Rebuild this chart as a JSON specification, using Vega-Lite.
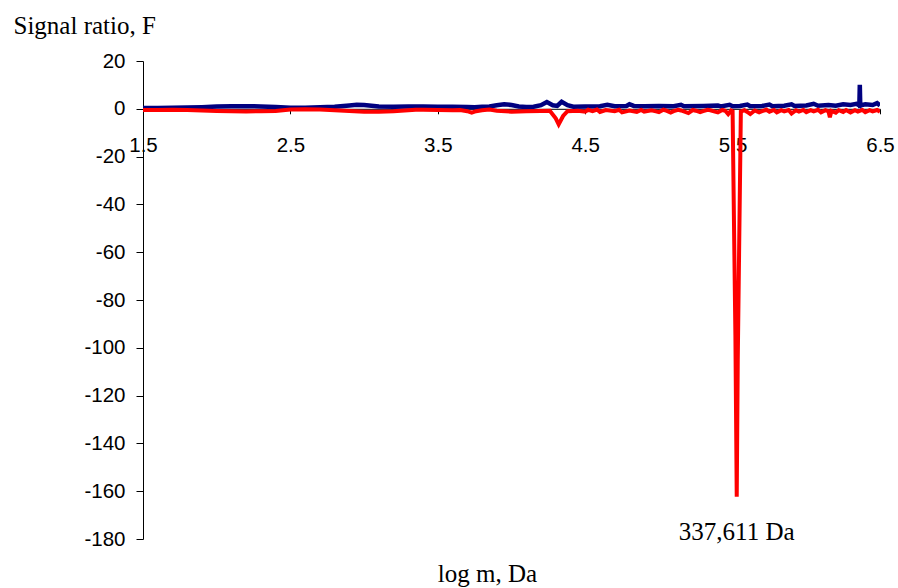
{
  "$schema": "https://vega.github.io/schema/vega-lite/v6.json",
  "autosize": {"type": "none"},
  "padding": {"left": 143, "top": 61, "right": 18, "bottom": 49},
  "width": 737,
  "height": 478,
  "background": "white",
  "config": {
    "view": {"stroke": null},
    "axis": {
      "grid": false,
      "domainColor": "#000000",
      "tickColor": "#000000",
      "labelColor": "#000000",
      "titleColor": "#000000",
      "labelFont": "Liberation Sans",
      "labelFontSize": 20.5,
      "titleFont": "Liberation Serif",
      "titleFontSize": 25,
      "titleFontWeight": "normal"
    }
  },
  "datasets": {
    "blue": [
      {"logm": 1.5, "F": 0.3}, {"logm": 1.6, "F": 0.3}, {"logm": 1.7, "F": 0.4}, {"logm": 1.8, "F": 0.5},
      {"logm": 1.9, "F": 0.7}, {"logm": 2.0, "F": 1.0}, {"logm": 2.1, "F": 1.1}, {"logm": 2.2, "F": 1.1},
      {"logm": 2.3, "F": 1.0}, {"logm": 2.4, "F": 0.8}, {"logm": 2.5, "F": 0.4}, {"logm": 2.6, "F": 0.4},
      {"logm": 2.7, "F": 0.6}, {"logm": 2.8, "F": 0.9}, {"logm": 2.9, "F": 1.4}, {"logm": 2.95, "F": 1.7},
      {"logm": 3.0, "F": 1.6}, {"logm": 3.05, "F": 1.3}, {"logm": 3.1, "F": 1.0}, {"logm": 3.2, "F": 0.9},
      {"logm": 3.3, "F": 1.0}, {"logm": 3.4, "F": 1.0}, {"logm": 3.5, "F": 0.9}, {"logm": 3.6, "F": 0.9},
      {"logm": 3.7, "F": 0.8}, {"logm": 3.75, "F": 0.7}, {"logm": 3.8, "F": 0.9}, {"logm": 3.85, "F": 1.0},
      {"logm": 3.9, "F": 1.5}, {"logm": 3.95, "F": 1.9}, {"logm": 4.0, "F": 1.6}, {"logm": 4.05, "F": 1.0},
      {"logm": 4.1, "F": 0.8}, {"logm": 4.15, "F": 0.9}, {"logm": 4.2, "F": 1.5}, {"logm": 4.24, "F": 2.8},
      {"logm": 4.28, "F": 1.5}, {"logm": 4.31, "F": 1.2}, {"logm": 4.34, "F": 2.9}, {"logm": 4.38, "F": 1.5},
      {"logm": 4.42, "F": 0.9}, {"logm": 4.5, "F": 1.0}, {"logm": 4.6, "F": 1.1}, {"logm": 4.65, "F": 1.7},
      {"logm": 4.7, "F": 1.1}, {"logm": 4.78, "F": 1.2}, {"logm": 4.8, "F": 1.9}, {"logm": 4.83, "F": 1.2},
      {"logm": 4.9, "F": 1.1}, {"logm": 5.0, "F": 1.2}, {"logm": 5.1, "F": 1.1}, {"logm": 5.15, "F": 1.7},
      {"logm": 5.17, "F": 1.1}, {"logm": 5.3, "F": 1.2}, {"logm": 5.4, "F": 1.4}, {"logm": 5.42, "F": 1.0},
      {"logm": 5.48, "F": 1.7}, {"logm": 5.5, "F": 1.1}, {"logm": 5.55, "F": 1.2}, {"logm": 5.6, "F": 1.8},
      {"logm": 5.62, "F": 1.1}, {"logm": 5.7, "F": 1.2}, {"logm": 5.75, "F": 1.8}, {"logm": 5.77, "F": 1.1},
      {"logm": 5.85, "F": 1.3}, {"logm": 5.9, "F": 1.9}, {"logm": 5.92, "F": 1.2}, {"logm": 6.0, "F": 1.4},
      {"logm": 6.05, "F": 2.1}, {"logm": 6.08, "F": 1.3}, {"logm": 6.15, "F": 1.6}, {"logm": 6.2, "F": 1.3},
      {"logm": 6.25, "F": 1.9}, {"logm": 6.3, "F": 1.6}, {"logm": 6.34, "F": 2.1}, {"logm": 6.36, "F": 1.4},
      {"logm": 6.363, "F": 10.0}, {"logm": 6.366, "F": 1.4}, {"logm": 6.4, "F": 1.9}, {"logm": 6.45, "F": 1.6},
      {"logm": 6.48, "F": 2.4}, {"logm": 6.5, "F": 1.4}
    ],
    "red": [
      {"logm": 1.5, "F": -0.5}, {"logm": 1.6, "F": -0.5}, {"logm": 1.7, "F": -0.4}, {"logm": 1.8, "F": -0.5},
      {"logm": 1.9, "F": -0.7}, {"logm": 2.0, "F": -0.9}, {"logm": 2.1, "F": -1.0}, {"logm": 2.2, "F": -1.1},
      {"logm": 2.3, "F": -1.0}, {"logm": 2.4, "F": -0.9}, {"logm": 2.5, "F": -0.3}, {"logm": 2.6, "F": -0.2},
      {"logm": 2.7, "F": -0.3}, {"logm": 2.8, "F": -0.6}, {"logm": 2.9, "F": -0.9}, {"logm": 3.0, "F": -1.2},
      {"logm": 3.1, "F": -1.2}, {"logm": 3.2, "F": -1.0}, {"logm": 3.3, "F": -0.6}, {"logm": 3.35, "F": -0.4},
      {"logm": 3.4, "F": -0.4}, {"logm": 3.5, "F": -0.5}, {"logm": 3.6, "F": -0.6}, {"logm": 3.65, "F": -0.5},
      {"logm": 3.7, "F": -1.0}, {"logm": 3.73, "F": -1.6}, {"logm": 3.76, "F": -1.0}, {"logm": 3.8, "F": -0.6},
      {"logm": 3.85, "F": -0.3}, {"logm": 3.9, "F": -0.8}, {"logm": 4.0, "F": -1.2}, {"logm": 4.1, "F": -1.0},
      {"logm": 4.2, "F": -0.9}, {"logm": 4.26, "F": -0.8}, {"logm": 4.3, "F": -4.0}, {"logm": 4.32, "F": -6.5},
      {"logm": 4.35, "F": -3.0}, {"logm": 4.38, "F": -1.0}, {"logm": 4.45, "F": -0.8}, {"logm": 4.5, "F": -1.2},
      {"logm": 4.52, "F": -0.4}, {"logm": 4.55, "F": -1.0}, {"logm": 4.58, "F": -0.3}, {"logm": 4.6, "F": -1.3},
      {"logm": 4.64, "F": -0.5}, {"logm": 4.7, "F": -1.0}, {"logm": 4.73, "F": -0.4}, {"logm": 4.75, "F": -1.5},
      {"logm": 4.8, "F": -0.7}, {"logm": 4.85, "F": -1.3}, {"logm": 4.88, "F": -0.5}, {"logm": 4.9, "F": -1.2},
      {"logm": 4.95, "F": -0.6}, {"logm": 4.98, "F": -1.1}, {"logm": 5.0, "F": -1.4}, {"logm": 5.03, "F": -0.4},
      {"logm": 5.05, "F": -0.8}, {"logm": 5.08, "F": -1.6}, {"logm": 5.1, "F": -1.0}, {"logm": 5.13, "F": -0.4},
      {"logm": 5.15, "F": -0.7}, {"logm": 5.2, "F": -1.8}, {"logm": 5.23, "F": -0.5}, {"logm": 5.25, "F": -0.8},
      {"logm": 5.28, "F": -1.4}, {"logm": 5.3, "F": -1.0}, {"logm": 5.33, "F": -0.4}, {"logm": 5.35, "F": -0.6},
      {"logm": 5.38, "F": -1.2}, {"logm": 5.4, "F": -1.5}, {"logm": 5.43, "F": -0.5}, {"logm": 5.45, "F": -0.8},
      {"logm": 5.47, "F": -2.2}, {"logm": 5.49, "F": -0.7}, {"logm": 5.5, "F": -1.0},
      {"logm": 5.519, "F": -95}, {"logm": 5.528, "F": -162.3}, {"logm": 5.535, "F": -105}, {"logm": 5.556, "F": -1.2},
      {"logm": 5.58, "F": -0.6}, {"logm": 5.6, "F": -1.3}, {"logm": 5.62, "F": -2.2}, {"logm": 5.65, "F": -0.7},
      {"logm": 5.68, "F": -1.5}, {"logm": 5.7, "F": -1.0}, {"logm": 5.73, "F": -0.4}, {"logm": 5.75, "F": -1.2},
      {"logm": 5.78, "F": -0.5}, {"logm": 5.8, "F": -1.5}, {"logm": 5.83, "F": -0.6}, {"logm": 5.85, "F": -1.1},
      {"logm": 5.88, "F": -0.5}, {"logm": 5.9, "F": -2.0}, {"logm": 5.93, "F": -0.6}, {"logm": 5.95, "F": -1.2},
      {"logm": 5.98, "F": -0.5}, {"logm": 6.0, "F": -1.4}, {"logm": 6.03, "F": -0.6}, {"logm": 6.05, "F": -1.1},
      {"logm": 6.08, "F": -0.4}, {"logm": 6.1, "F": -1.5}, {"logm": 6.13, "F": -0.6}, {"logm": 6.15, "F": -1.0},
      {"logm": 6.16, "F": -3.5}, {"logm": 6.17, "F": -0.9}, {"logm": 6.2, "F": -1.6}, {"logm": 6.22, "F": -0.6},
      {"logm": 6.25, "F": -1.3}, {"logm": 6.27, "F": -0.5}, {"logm": 6.3, "F": -1.5}, {"logm": 6.33, "F": -0.6},
      {"logm": 6.35, "F": -1.2}, {"logm": 6.38, "F": -0.5}, {"logm": 6.4, "F": -1.4}, {"logm": 6.43, "F": -0.6},
      {"logm": 6.45, "F": -1.1}, {"logm": 6.48, "F": -0.5}, {"logm": 6.5, "F": -1.2}
    ],
    "peak": [
      {"logm": 5.528, "F": -162.3, "label": "337,611 Da"}
    ]
  },
  "encoding": {
    "x": {
      "field": "logm",
      "type": "quantitative",
      "scale": {"domain": [1.5, 6.5], "nice": false, "zero": false},
      "axis": {
        "orient": "bottom",
        "offset": -430.2,
        "values": [1.5, 2.5, 3.5, 4.5, 5.5, 6.5],
        "labelExpr": "format(datum.value, '.1f')",
        "tickSize": 5,
        "labelPadding": 32,
        "labelBaseline": "middle",
        "labelFlush": false,
        "labelOverlap": false,
        "title": "log m, Da",
        "titleX": 344,
        "titleY": 473,
        "titleAlign": "center",
        "titleBaseline": "alphabetic",
        "domainWidth": 1
      }
    },
    "y": {
      "field": "F",
      "type": "quantitative",
      "scale": {"domain": [-180, 20], "nice": false, "zero": false},
      "axis": {
        "values": [20, 0, -20, -40, -60, -80, -100, -120, -140, -160, -180],
        "labelExpr": "'' + datum.value",
        "tickSize": 7,
        "labelPadding": 11,
        "title": "Signal ratio, F",
        "titleAngle": 0,
        "titleAlign": "left",
        "titleBaseline": "alphabetic",
        "titleX": -130,
        "titleY": -28,
        "domainWidth": 1
      }
    }
  },
  "layer": [
    {
      "data": {"name": "blue"},
      "mark": {"type": "line", "color": "#000080", "strokeWidth": 4.5, "clip": true}
    },
    {
      "data": {"name": "red"},
      "mark": {"type": "line", "color": "#FF0000", "strokeWidth": 4, "clip": true}
    },
    {
      "data": {"name": "peak"},
      "mark": {"type": "text", "font": "Liberation Serif", "fontSize": 25, "color": "#000000", "baseline": "alphabetic", "align": "center", "dy": 43},
      "encoding": {"text": {"field": "label"}}
    }
  ]
}
